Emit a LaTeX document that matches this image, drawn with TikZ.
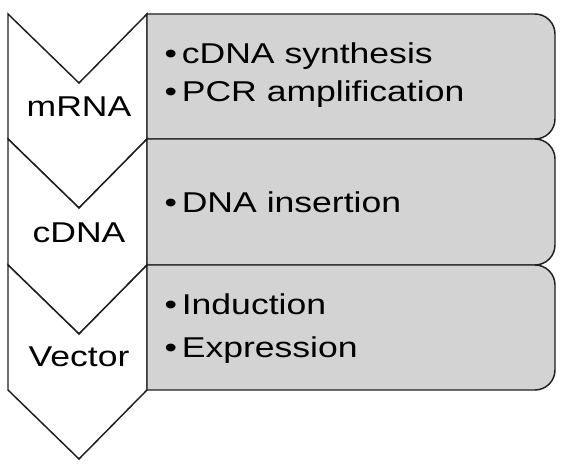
\documentclass[tikz,border=0pt]{standalone}
\usepackage{fontspec}
\newfontfamily\labfont[FakeStretch=1.24]{Liberation Sans}
\definecolor{stepgray}{RGB}{211,211,211}
\definecolor{edge}{RGB}{30,30,30}
\tikzset{every picture/.style={line width=1.1pt}}
\tikzset{
  chev/.style={draw=edge, fill=white, line join=miter},
  stagebox/.style={draw=edge, fill=stepgray},
  lab/.style={font=\labfont\fontsize{21.5}{26}\selectfont, text=black, inner sep=0pt}
}
\newcommand{\itm}{•\hspace{3.5pt}}
\begin{document}
\begin{tikzpicture}[x=0.75pt,y=0.75pt,yscale=-1,xscale=1]
\useasboundingbox (0,0) rectangle (576,470);

%Shape: Chevron [id:mrna]
\draw [chev] (8,14) -- (79,83) -- (147,14) -- (147,139) -- (79,208) -- (8,139) -- cycle ;
%Shape: Box [id:box1]
\draw [stagebox] (147,14) [rounded corners=15pt] -- (555,14) -- (555,139) [sharp corners] -- (147,139) -- cycle ;

%Shape: Chevron [id:cdna]
\draw [chev] (8,139) -- (79,208) -- (147,139) -- (147,265) -- (79,334) -- (8,265) -- cycle ;
%Shape: Box [id:box2]
\draw [stagebox] (147,139) [rounded corners=15pt] -- (555,139) -- (555,265) [sharp corners] -- (147,265) -- cycle ;

%Shape: Chevron [id:vector]
\draw [chev] (8,265) -- (79,334) -- (147,265) -- (147,390) -- (79,459) -- (8,390) -- cycle ;
%Shape: Box [id:box3]
\draw [stagebox] (147,265) [rounded corners=15pt] -- (555,265) -- (555,390) [sharp corners] -- (147,390) -- cycle ;

% Text Node
\draw (79,117) node [lab, anchor=base] (mrna) {mRNA};
% Text Node
\draw (79,243) node [lab, anchor=base] (cdna) {cDNA};
% Text Node
\draw (79,367) node [lab, anchor=base] (vector) {Vector};
% Text Node
\draw (164,64) node [lab, anchor=base west] (synth) {\itm cDNA synthesis};
% Text Node
\draw (164,102) node [lab, anchor=base west] (pcr) {\itm PCR amplification};
% Text Node
\draw (164,213) node [lab, anchor=base west] (insert) {\itm DNA insertion};
% Text Node
\draw (164,315) node [lab, anchor=base west] (induct) {\itm Induction};
% Text Node
\draw (164,358) node [lab, anchor=base west] (express) {\itm Expression};

\end{tikzpicture}
\end{document}
